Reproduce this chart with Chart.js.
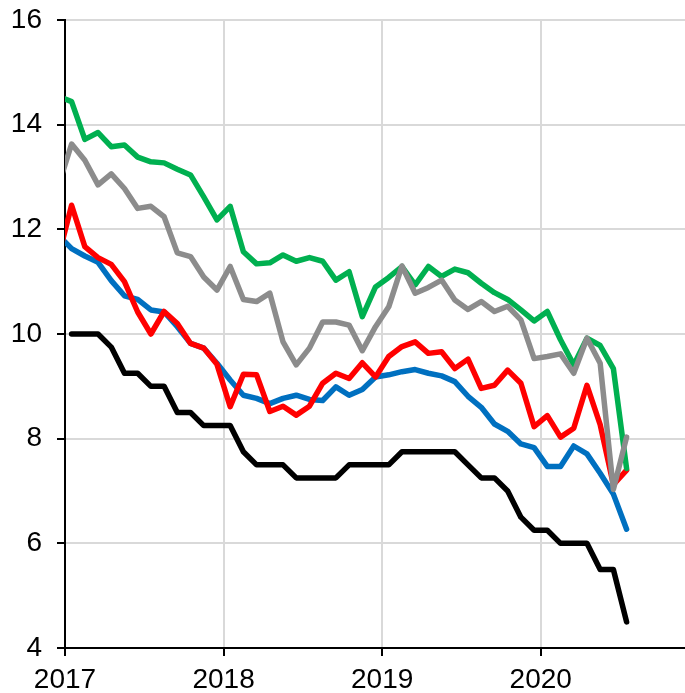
<!DOCTYPE html>
<html>
<head>
<meta charset="utf-8">
<script src="https://cdn.jsdelivr.net/npm/chart.js@4/dist/chart.umd.min.js"></script>
<style>
  html, body { margin: 0; padding: 0; background: #fff; }
  #wrap { width: 685px; height: 693px; }
</style>
</head>
<body>
<div id="wrap"><canvas id="rates" width="685" height="693"></canvas></div>
<script>
// monthly observations, plotted mid-month; Dec 2016 only shows as the clipped start
const months = [
  '2016-12',
  '2017-01', '2017-02', '2017-03', '2017-04', '2017-05', '2017-06',
  '2017-07', '2017-08', '2017-09', '2017-10', '2017-11', '2017-12',
  '2018-01', '2018-02', '2018-03', '2018-04', '2018-05', '2018-06',
  '2018-07', '2018-08', '2018-09', '2018-10', '2018-11', '2018-12',
  '2019-01', '2019-02', '2019-03', '2019-04', '2019-05', '2019-06',
  '2019-07', '2019-08', '2019-09', '2019-10', '2019-11', '2019-12',
  '2020-01', '2020-02', '2020-03', '2020-04', '2020-05', '2020-06',
  '2020-07'
];

const greenRate = [14.54,
  14.44, 13.72, 13.85, 13.58, 13.61, 13.38, 13.29, 13.27, 13.15, 13.04, 12.62, 12.18,
  12.44, 11.57, 11.34, 11.36, 11.51, 11.39, 11.46, 11.39, 11.03, 11.19, 10.33, 10.90,
  11.08, 11.29, 10.94, 11.29, 11.10, 11.24, 11.17, 10.97, 10.79, 10.66, 10.46, 10.25,
  10.43, 9.89, 9.41, 9.92, 9.78, 9.34, 7.43];

const grayRate = [12.83,
  13.63, 13.32, 12.85, 13.06, 12.78, 12.40, 12.44, 12.24, 11.55, 11.48, 11.09, 10.84,
  11.29, 10.66, 10.62, 10.78, 9.85, 9.41, 9.73, 10.23, 10.23, 10.17, 9.68, 10.14,
  10.52, 11.30, 10.78, 10.89, 11.03, 10.65, 10.47, 10.62, 10.43, 10.53, 10.27, 9.53,
  9.57, 9.62, 9.25, 9.92, 9.44, 7.03, 8.03];

const redRate = [11.48,
  12.46, 11.67, 11.46, 11.33, 11.00, 10.42, 10.00, 10.43, 10.20, 9.82, 9.73, 9.42,
  8.61, 9.23, 9.22, 8.52, 8.62, 8.45, 8.62, 9.06, 9.25, 9.15, 9.45, 9.18,
  9.57, 9.76, 9.85, 9.63, 9.66, 9.34, 9.52, 8.96, 9.02, 9.31, 9.06, 8.23,
  8.44, 8.03, 8.20, 9.02, 8.27, 7.12, 7.40];

const blueRate = [11.89,
  11.63, 11.49, 11.37, 11.02, 10.73, 10.66, 10.46, 10.42, 10.14, 9.82, 9.73, 9.44,
  9.12, 8.83, 8.77, 8.67, 8.77, 8.83, 8.75, 8.73, 8.99, 8.83, 8.94, 9.18,
  9.22, 9.28, 9.32, 9.25, 9.20, 9.09, 8.81, 8.60, 8.28, 8.14, 7.90, 7.83,
  7.47, 7.47, 7.86, 7.71, 7.34, 6.94, 6.27];

const keyRate = [null,
  10, 10, 10, 9.75, 9.25, 9.25, 9, 9, 8.5, 8.5, 8.25, 8.25,
  8.25, 7.75, 7.5, 7.5, 7.5, 7.25, 7.25, 7.25, 7.25, 7.5, 7.5, 7.5,
  7.5, 7.75, 7.75, 7.75, 7.75, 7.75, 7.5, 7.25, 7.25, 7.0, 6.5, 6.25,
  6.25, 6.0, 6.0, 6.0, 5.5, 5.5, 4.5];

const yearTicks = [2017, 2018, 2019, 2020];
const yTicks = [4, 6, 8, 10, 12, 14, 16];

// '2017-03' -> 2017 + 2.5/12
function monthPos(s) {
  const parts = s.split('-').map(Number);
  return parts[0] + (parts[1] - 0.5) / 12;
}

function toPoints(values) {
  return months.map((m, i) => ({ x: monthPos(m), y: values[i] }));
}

function line(label, values, color) {
  return {
    label: label,
    data: toPoints(values),
    borderColor: color,
    backgroundColor: color,
    borderWidth: 5.5,
    pointRadius: 0,
    tension: 0,
    borderJoinStyle: 'round',
    borderCapStyle: 'round',
    spanGaps: false
  };
}

Chart.defaults.font.family = "'Liberation Sans', Arial, sans-serif";
Chart.defaults.font.size = 28;
Chart.defaults.color = '#000';

// first dataset is painted last (on top)
new Chart(document.getElementById('rates'), {
  type: 'line',
  data: {
    datasets: [
      line('Gray', grayRate, '#8c8c8c'),
      line('Green', greenRate, '#00b050'),
      line('Red', redRate, '#ff0000'),
      line('Blue', blueRate, '#0070c0'),
      line('Key rate', keyRate, '#000000')
    ]
  },
  options: {
    responsive: false,
    animation: false,
    devicePixelRatio: 1,
    layout: { padding: { top: 20, right: 0, left: 0, bottom: 0 } },
    plugins: {
      legend: { display: false },
      tooltip: { enabled: false }
    },
    scales: {
      x: {
        type: 'linear',
        min: 2017,
        max: 2020.91,
        afterBuildTicks: (scale) => { scale.ticks = yearTicks.map(v => ({ value: v })); },
        afterFit: (scale) => {
          scale.height = 45;
          scale.paddingLeft = 0;
          scale.paddingRight = 0;
        },
        grid: { color: '#d9d9d9', lineWidth: 2, tickColor: '#000', tickLength: 8, tickWidth: 2 },
        border: { color: '#000', width: 2 },
        ticks: { padding: 7, maxRotation: 0, callback: (v) => String(v) }
      },
      y: {
        min: 4,
        max: 16,
        afterBuildTicks: (scale) => { scale.ticks = yTicks.map(v => ({ value: v })); },
        afterFit: (scale) => {
          scale.width = 65;
          scale.paddingTop = 0;
          scale.paddingBottom = 0;
        },
        grid: { color: '#d9d9d9', lineWidth: 2, tickColor: '#000', tickLength: 8, tickWidth: 2 },
        border: { color: '#000', width: 2 },
        ticks: { padding: 15, callback: (v) => String(v) }
      }
    }
  }
});
</script>
</body>
</html>
